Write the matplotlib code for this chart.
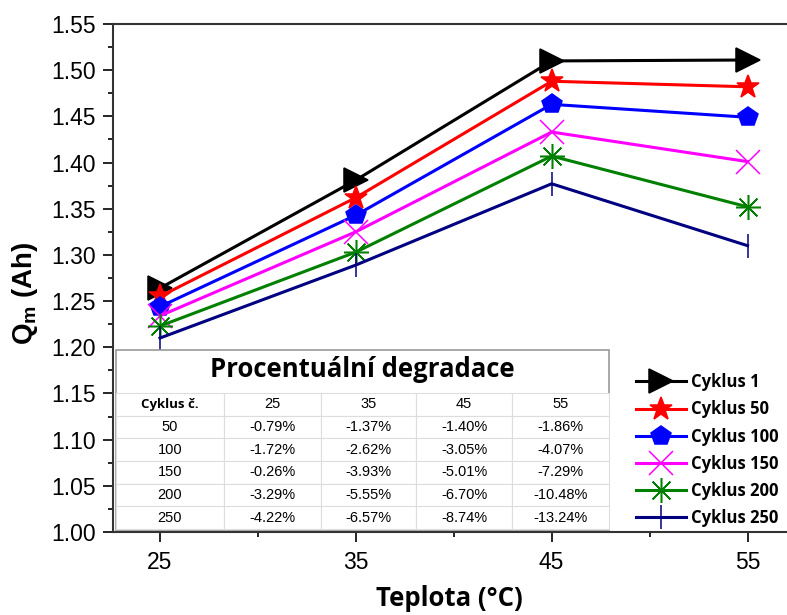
import numpy as np
import matplotlib.pyplot as plt
from matplotlib.ticker import MultipleLocator
from matplotlib.patches import Rectangle

plt.rcParams['font.family'] = ['Liberation Sans', 'DejaVu Sans']

teplota = [25, 35, 45, 55]
cykly = ['Cyklus 1', 'Cyklus 50', 'Cyklus 100', 'Cyklus 150', 'Cyklus 200', 'Cyklus 250']
q_c1 = [1.264, 1.381, 1.510, 1.511]
q_c50 = [1.255, 1.362, 1.488, 1.482]
q_c100 = [1.244, 1.343, 1.463, 1.449]
q_c150 = [1.234, 1.325, 1.433, 1.401]
q_c200 = [1.223, 1.303, 1.407, 1.352]
q_c250 = [1.210, 1.289, 1.377, 1.310]

tab_cols = ['Cyklus č.', '25', '35', '45', '55']
tab_rows = [
    ['50', '-0.79%', '-1.37%', '-1.40%', '-1.86%'],
    ['100', '-1.72%', '-2.62%', '-3.05%', '-4.07%'],
    ['150', '-0.26%', '-3.93%', '-5.01%', '-7.29%'],
    ['200', '-3.29%', '-5.55%', '-6.70%', '-10.48%'],
    ['250', '-4.22%', '-6.57%', '-8.74%', '-13.24%'],
]

series = [q_c1, q_c50, q_c100, q_c150, q_c200, q_c250]
colors = ['black', 'red', 'blue', 'magenta', 'green', 'navy']
markers = ['>', '*', 'p', 'x', (8, 2, 0), '|']
msizes = [17, 17, 15, 17, 18, 17]

fig = plt.figure(figsize=(7.87, 6.15), dpi=100)
ax = fig.add_axes([0.1436, 0.135, 0.856, 0.826])

handles = []
for q, c, m, ms in zip(series, colors, markers, msizes):
    h, = ax.plot(teplota, q, color=c, lw=2.2, marker=m, ms=ms, mew=1.1,
                 mfc=c, mec=c, zorder=3)
    handles.append(h)

ax.set_xlim(22.6, 57.0)
ax.set_ylim(1.0, 1.55)
ax.set_xticks(teplota)
ax.xaxis.set_minor_locator(MultipleLocator(5))
ax.yaxis.set_major_locator(MultipleLocator(0.05))
ax.yaxis.set_minor_locator(MultipleLocator(0.025))
ax.yaxis.set_major_formatter(plt.FormatStrFormatter('%.2f'))
ax.tick_params(which='major', direction='out', length=7.5, width=1.2, labelsize=16.5)
ax.tick_params(which='minor', direction='out', length=3.5, width=1.2)
ax.tick_params(axis='x', which='major', pad=6)
ax.tick_params(axis='y', which='major', pad=5)
ax.spines['right'].set_visible(False)
for s in ['left', 'bottom', 'top']:
    ax.spines[s].set_linewidth(1.5)
    ax.spines[s].set_color('#333333')

ax.set_xlabel('Teplota (°C)', fontsize=18.5, fontweight='bold', family=['Open Sans', 'DejaVu Sans'], labelpad=8)
ax.set_ylabel('Q$_\\mathregular{m}$ (Ah)', fontsize=20, fontweight='bold')
ax.yaxis.set_label_coords(-0.108, 0.47)

# degradation table (pixel layout converted to axes fraction)
def fx(px):
    return (px - 113) / (785 - 113)

def fy(py):
    return (532 - py) / (532 - 24)

x0, x1 = fx(116), fx(608)
ax.add_patch(Rectangle((x0, fy(530)), x1 - x0, fy(350) - fy(530), transform=ax.transAxes,
                       facecolor='white', edgecolor='#999999', lw=1.2, zorder=5))
ax.text((x0 + x1) / 2, fy(370), 'Procentuální degradace', transform=ax.transAxes,
        ha='center', va='center', fontsize=18.5, fontweight='bold',
        family=['Open Sans', 'DejaVu Sans'], zorder=6)
tbl = ax.table(cellText=tab_rows, colLabels=tab_cols, cellLoc='center',
               bbox=[x0, fy(529), x1 - x0, fy(393) - fy(529)],
               colWidths=[107, 97, 95, 95, 97], zorder=6)
tbl.auto_set_font_size(False)
for (r, c), cell in tbl.get_celld().items():
    cell.set_edgecolor('#dddddd')
    cell.set_linewidth(0.8)
    cell.set_facecolor('white')
    cell.get_text().set_fontsize(10.5)
    if r == 0 and c == 0:
        cell.get_text().set_fontweight('bold')
        cell.get_text().set_fontsize(9.5)
        cell.get_text().set_family(['Open Sans', 'DejaVu Sans'])

leg = fig.legend(handles, cykly, loc='lower right', bbox_to_anchor=(779 / 787, 1 - 527 / 615),
                 frameon=False, borderpad=0, borderaxespad=0, handlelength=3.0,
                 handletextpad=0.35, labelspacing=0.55,
                 prop={'weight': 'bold', 'size': 12, 'family': ['Open Sans', 'DejaVu Sans']})
leg.set_zorder(7)

fig.savefig('out.png', dpi=100)
